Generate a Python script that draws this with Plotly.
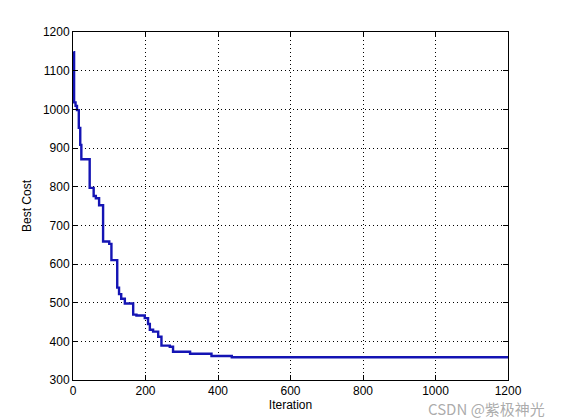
import plotly.graph_objects as go

# Step change points (iteration, best cost)
iterations = [1, 3, 7, 11, 16, 20, 23, 46, 57, 63, 72, 83, 100, 106, 122, 127, 133, 143, 166, 175,
              198, 207, 212, 221, 235, 244, 267, 276, 323, 382, 438, 1200]
best_cost = [1148, 1018, 1009, 998, 952, 908, 871, 797, 776, 770, 752, 658, 652, 610, 539, 522, 510, 498, 469, 467,
             460, 445, 430, 425, 412, 389, 386, 373, 368, 362, 359, 359]

x_ticks = [0, 200, 400, 600, 800, 1000, 1200]
y_ticks = [300, 400, 500, 600, 700, 800, 900, 1000, 1100, 1200]

fig = go.Figure()
fig.add_trace(go.Scatter(x=iterations, y=best_cost, mode="lines", line_shape="hv",
                         line=dict(color="#1414b4", width=2.4), showlegend=False))

axis_common = dict(showline=True, linecolor="black", linewidth=1, mirror="ticks",
                   ticks="inside", ticklen=5, tickcolor="black", automargin=False,
                   showgrid=True, gridcolor="black", gridwidth=1, griddash="1px,3px",
                   zeroline=False, tickfont=dict(family="Liberation Sans, Arial", size=12, color="black"),
                   title_font=dict(family="Liberation Sans, Arial", size=12, color="black"))

# page has an 8px body margin, so the figure is sized/offset to compensate
fig.update_layout(
    width=553, height=412,
    margin=dict(l=65, r=53, t=24, b=40),
    paper_bgcolor="white", plot_bgcolor="white",
    xaxis=dict(range=[0, 1200], tickvals=x_ticks, title=dict(text="Iteration", standoff=2), **axis_common),
    yaxis=dict(range=[300, 1200], tickvals=y_ticks, title=dict(text="Best Cost", standoff=8), **axis_common),
    annotations=[dict(text="CSDN @紫极神光", x=1, y=0, xref="paper", yref="paper", xanchor="right", yanchor="top",
                      xshift=39, yshift=-16, showarrow=False,
                      font=dict(family="Noto Sans CJK SC", size=15, color="rgba(150,150,150,0.8)"))]
)

fig.write_html("out.html")
